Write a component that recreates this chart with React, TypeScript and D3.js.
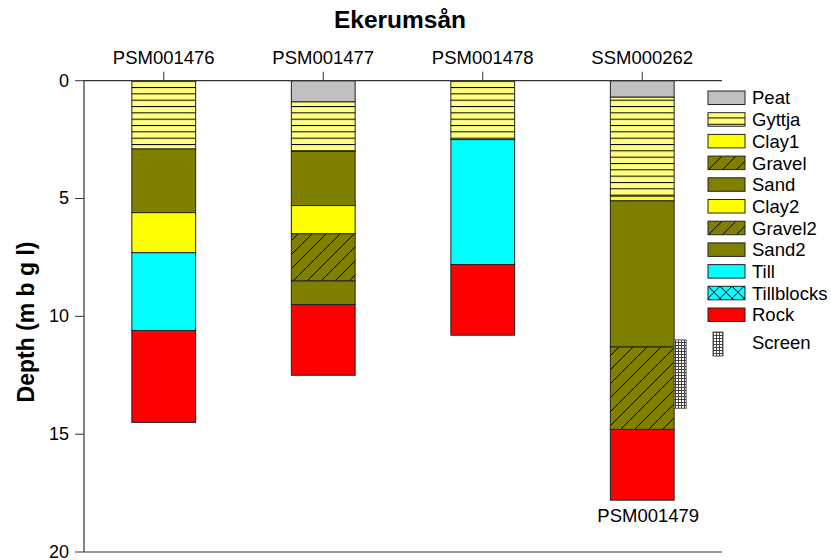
import React from "react";
import * as d3 from "d3";

// Borehole logs for Ekerumsån: soil layers by depth (m below ground level)
const title = "Ekerumsån";
const wells = ["PSM001476", "PSM001477", "PSM001478", "SSM000262"];
const depthTicks = [0, 5, 10, 15, 20];

type Layer = { soil: string; top: number; bottom: number };

const psm001476: Layer[] = [
  { soil: "Gyttja", top: 0, bottom: 2.9 },
  { soil: "Sand", top: 2.9, bottom: 5.6 },
  { soil: "Clay1", top: 5.6, bottom: 7.3 },
  { soil: "Till", top: 7.3, bottom: 10.6 },
  { soil: "Rock", top: 10.6, bottom: 14.5 },
];
const psm001477: Layer[] = [
  { soil: "Peat", top: 0, bottom: 0.9 },
  { soil: "Gyttja", top: 0.9, bottom: 3.0 },
  { soil: "Sand", top: 3.0, bottom: 5.3 },
  { soil: "Clay2", top: 5.3, bottom: 6.5 },
  { soil: "Gravel2", top: 6.5, bottom: 8.5 },
  { soil: "Sand2", top: 8.5, bottom: 9.5 },
  { soil: "Rock", top: 9.5, bottom: 12.5 },
];
const psm001478: Layer[] = [
  { soil: "Gyttja", top: 0, bottom: 2.5 },
  { soil: "Till", top: 2.5, bottom: 7.8 },
  { soil: "Rock", top: 7.8, bottom: 10.8 },
];
const ssm000262: Layer[] = [
  { soil: "Peat", top: 0, bottom: 0.7 },
  { soil: "Gyttja", top: 0.7, bottom: 4.9 },
  { soil: "Clay1", top: 4.9, bottom: 5.1 },
  { soil: "Sand", top: 5.1, bottom: 11.3 },
  { soil: "Gravel", top: 11.3, bottom: 14.8 },
  { soil: "Rock", top: 14.8, bottom: 17.8 },
];
const wellLayers: Layer[][] = [psm001476, psm001477, psm001478, ssm000262];

// Screened interval in SSM000262, labelled with its own id
const screenWell = "SSM000262";
const screenTop = 11.0;
const screenBottom = 13.9;
const screenLabel = "PSM001479";

const soilTypes = [
  "Peat", "Gyttja", "Clay1", "Gravel", "Sand", "Clay2",
  "Gravel2", "Sand2", "Till", "Tillblocks", "Rock",
];

const soilFill: Record<string, string> = {
  Peat: "#C0C0C0",
  Gyttja: "url(#pat-gyttja)",
  Clay1: "#FFFF00",
  Gravel: "url(#pat-gravel)",
  Sand: "#808000",
  Clay2: "#FFFF00",
  Gravel2: "url(#pat-gravel)",
  Sand2: "#808000",
  Till: "#00FFFF",
  Tillblocks: "url(#pat-tillblocks)",
  Rock: "#FF0000",
};

const W = 831;
const H = 560;
const plotLeft = 84;
const plotRight = 722;
const plotTop = 80.7;
const plotBottom = 552;
const FONT = "Arial, 'Liberation Sans', sans-serif";

export default function App() {
  const y = d3.scaleLinear().domain([0, 20]).range([plotTop, plotBottom]);
  const x = d3.scalePoint<string>().domain(wells).range([plotLeft, plotRight]).padding(0.5);
  const barW = x.step() * 0.4;

  const legendX = 708;
  const legendTop = 91;
  const legendStep = 21.7;

  const sx = x(screenWell)! + barW / 2;

  return (
    <svg
      width={W}
      height={H}
      style={{ position: "fixed", left: 0, top: 0, background: "#fff" }}
      fontFamily={FONT}
    >
      <defs>
        <pattern id="pat-gyttja" patternUnits="userSpaceOnUse" width={10} height={6.33} y={plotTop}>
          <rect width={10} height={6.33} fill="#FFFF80" />
          <line x1={0} x2={10} y1={0.5} y2={0.5} stroke="#000" strokeWidth={1} />
        </pattern>
        <pattern id="pat-gravel" patternUnits="userSpaceOnUse" width={14} height={14}>
          <rect width={14} height={14} fill="#808000" />
          <path d="M0,14 L14,0 M-2,2 L2,-2 M12,16 L16,12" stroke="#000" strokeWidth={1} />
        </pattern>
        <pattern id="pat-tillblocks" patternUnits="userSpaceOnUse" width={12} height={12}>
          <rect width={12} height={12} fill="#00FFFF" />
          <path d="M0,0 L12,12 M0,12 L12,0" stroke="#000" strokeWidth={1} />
        </pattern>
        <pattern id="pat-screen" patternUnits="userSpaceOnUse" width={3} height={3}>
          <rect width={3} height={3} fill="#fff" />
          <path d="M0,0.5 H3 M0.5,0 V3" stroke="#444" strokeWidth={1} />
        </pattern>
      </defs>

      {/* Title */}
      <text x={400} y={28} textAnchor="middle" fontSize={24.5} fontWeight="bold" fill="#000">
        {title}
      </text>

      {/* Well names and top ticks */}
      {wells.map((w) => (
        <g key={w}>
          <text x={x(w)} y={64} textAnchor="middle" fontSize={18.5} fill="#000">
            {w}
          </text>
          <line x1={x(w)} x2={x(w)} y1={plotTop - 9} y2={plotTop} stroke="#333" strokeWidth={1} />
        </g>
      ))}

      {/* Layers */}
      {wells.map((w, i) =>
        wellLayers[i].map((l, j) => (
          <rect
            key={w + j}
            x={x(w)! - barW / 2}
            y={y(l.top)}
            width={barW}
            height={y(l.bottom) - y(l.top)}
            fill={soilFill[l.soil]}
            stroke="#222"
            strokeWidth={1}
          />
        ))
      )}

      {/* Screen */}
      <rect
        x={sx}
        y={y(screenTop)}
        width={12}
        height={y(screenBottom) - y(screenTop)}
        fill="url(#pat-screen)"
        stroke="#555"
        strokeWidth={1}
      />
      <text x={x(screenWell)! + 6} y={522} textAnchor="middle" fontSize={18.5} fill="#000">
        {screenLabel}
      </text>

      {/* Frame lines */}
      <line x1={plotLeft} x2={plotRight} y1={plotTop} y2={plotTop} stroke="#333" strokeWidth={1.2} />
      <line x1={plotLeft} x2={plotRight} y1={plotBottom} y2={plotBottom} stroke="#333" strokeWidth={1.2} />
      <line x1={plotLeft} x2={plotLeft} y1={plotTop} y2={plotBottom} stroke="#333" strokeWidth={1.2} />

      {/* Depth axis */}
      {depthTicks.map((t) => (
        <g key={t}>
          <line x1={plotLeft - 9} x2={plotLeft} y1={y(t)} y2={y(t)} stroke="#333" strokeWidth={1} />
          <text x={plotLeft - 15} y={y(t)} dy="0.33em" textAnchor="end" fontSize={18} fill="#000">
            {t}
          </text>
        </g>
      ))}
      <text
        transform={`translate(34,322) rotate(-90)`}
        textAnchor="middle"
        fontSize={23}
        fontWeight="bold"
        fill="#000"
      >
        Depth (m b g l)
      </text>

      {/* Legend */}
      {soilTypes.map((s, i) => (
        <g key={s} transform={`translate(${legendX},${legendTop + i * legendStep})`}>
          <rect width={37} height={13.5} fill={soilFill[s]} stroke="#222" strokeWidth={1} />
          <text x={44} y={7} dy="0.35em" fontSize={18.5} fill="#000">
            {s}
          </text>
        </g>
      ))}
      <g transform={`translate(713,332)`}>
        <rect width={10} height={24} fill="url(#pat-screen)" stroke="#555" strokeWidth={1} />
        <text x={39} y={11} dy="0.35em" fontSize={18.5} fill="#000">
          Screen
        </text>
      </g>
    </svg>
  );
}
